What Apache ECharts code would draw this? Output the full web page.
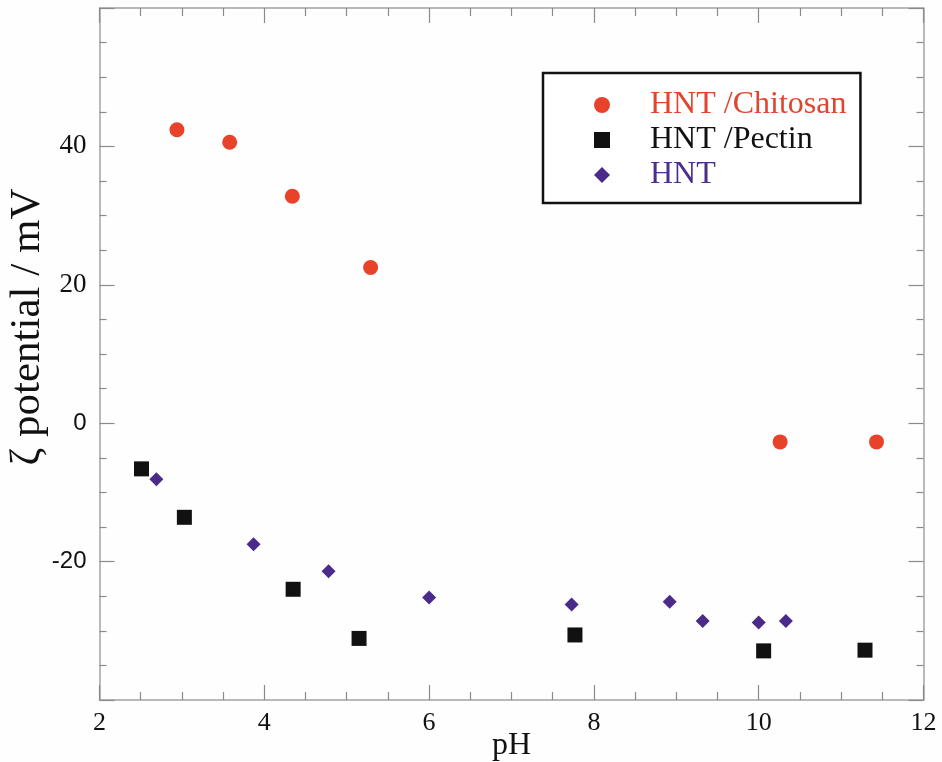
<!DOCTYPE html>
<html>
<head>
<meta charset="utf-8">
<script src="https://cdn.jsdelivr.net/npm/echarts@6/dist/echarts.min.js"></script>
<style>
  html, body { margin: 0; padding: 0; background: #fefefe; }
  #chart { width: 942px; height: 762px; }
</style>
</head>
<body>
<div id="chart"></div>
<script>
// Zeta potential versus pH for halloysite nanotubes and their polymer coatings
const chitosanPH = [2.94, 3.58, 4.34, 5.29, 10.26, 11.43];
const chitosanZeta = [42.4, 40.6, 32.8, 22.5, -2.7, -2.7];

const pectinPH = [2.51, 3.03, 4.35, 5.15, 7.77, 10.06, 11.29];
const pectinZeta = [-6.6, -13.6, -24.0, -31.1, -30.6, -32.9, -32.8];

const hntPH = [2.69, 3.87, 4.78, 6.00, 7.73, 8.92, 9.32, 10.00, 10.33];
const hntZeta = [-8.1, -17.5, -21.4, -25.2, -26.2, -25.8, -28.6, -28.8, -28.6];

const seriesNames = ['HNT /Chitosan', 'HNT /Pectin', 'HNT'];
const yTickLabels = [-20, 0, 20, 40];

const pairs = (xs, ys) => xs.map((x, i) => [x, ys[i]]);

const serif = '"Liberation Serif", "Times New Roman", serif';
const sans = '"Liberation Sans", Arial, sans-serif';
const axisGrey = '#a3a3a3';
const tickGrey = '#8a8a8a';

const colors = { chitosan: '#e8432a', pectin: '#111111', hnt: '#4a2b8a' };

const xBase = {
  type: 'value', min: 2, max: 12, interval: 2,
  axisLine: { show: true, onZero: false, lineStyle: { color: axisGrey, width: 1.5 } },
  axisTick: { show: true, inside: true, length: 15, lineStyle: { color: tickGrey, width: 1.2 } },
  minorTick: { show: true, splitNumber: 4, length: 8, lineStyle: { color: tickGrey, width: 1.2 } },
  splitLine: { show: false }
};
const yBase = {
  type: 'value', min: -40, max: 60, interval: 20,
  axisLine: { show: true, onZero: false, lineStyle: { color: axisGrey, width: 1.5 } },
  axisTick: { show: true, inside: true, length: 15, lineStyle: { color: tickGrey, width: 1.2 } },
  minorTick: { show: true, splitNumber: 4, length: 7, lineStyle: { color: tickGrey, width: 1.2 } },
  splitLine: { show: false }
};

const chart = echarts.init(document.getElementById('chart'), null, { renderer: 'canvas' });
chart.setOption({
  backgroundColor: '#fefefe',
  animation: false,
  grid: { left: 99.5, right: 18.5, top: 8, bottom: 62, containLabel: false, outerBoundsMode: 'none' },
  legend: {
    orient: 'vertical',
    left: 543, top: 73,
    padding: [16, 14, 12, 51],
    itemGap: 3,
    itemWidth: 16, itemHeight: 16,
    borderColor: '#111', borderWidth: 2.5,
    backgroundColor: '#ffffff',
    textStyle: { fontFamily: serif, fontSize: 32, padding: [0, 0, 0, 35] },
    data: [
      { name: seriesNames[0], textStyle: { color: '#e0452f' } },
      { name: seriesNames[1], textStyle: { color: '#111111' } },
      { name: seriesNames[2], textStyle: { color: '#4a2f8c' } }
    ]
  },
  xAxis: [
    Object.assign({}, xBase, {
      position: 'bottom',
      name: 'pH', nameLocation: 'middle', nameGap: 30, nameMoveOverlap: false,
      nameTextStyle: { fontFamily: serif, fontSize: 32, color: '#111' },
      axisLabel: { fontFamily: serif, fontSize: 26, color: '#111', margin: 10 }
    }),
    Object.assign({}, xBase, { position: 'top', axisLabel: { show: false } })
  ],
  yAxis: [
    Object.assign({}, yBase, {
      position: 'left',
      name: 'ζ potential / mV', nameLocation: 'middle', nameGap: 50, nameMoveOverlap: false,
      nameTextStyle: { fontFamily: serif, fontSize: 43, color: '#111', padding: [0, 0, 0, 54] },
      axisLabel: {
        margin: 13, color: '#111',
        formatter: v => {
          if (yTickLabels.indexOf(v) < 0) return '';
          return (v > 0 ? '{s|' : '{a|') + v + '}';
        },
        rich: {
          s: { fontFamily: serif, fontSize: 27, color: '#111' },
          a: { fontFamily: sans, fontSize: 24, color: '#111' }
        }
      }
    }),
    Object.assign({}, yBase, { position: 'right', axisLabel: { show: false } })
  ],
  series: [
    {
      name: seriesNames[0], type: 'scatter', symbol: 'circle', symbolSize: 15,
      itemStyle: { color: colors.chitosan, opacity: 1 },
      data: pairs(chitosanPH, chitosanZeta)
    },
    {
      name: seriesNames[1], type: 'scatter', symbol: 'rect', symbolSize: 15,
      itemStyle: { color: colors.pectin, opacity: 1 },
      data: pairs(pectinPH, pectinZeta)
    },
    {
      name: seriesNames[2], type: 'scatter', symbol: 'diamond', symbolSize: 14,
      itemStyle: { color: colors.hnt, opacity: 1 },
      data: pairs(hntPH, hntZeta)
    }
  ]
});
</script>
</body>
</html>
